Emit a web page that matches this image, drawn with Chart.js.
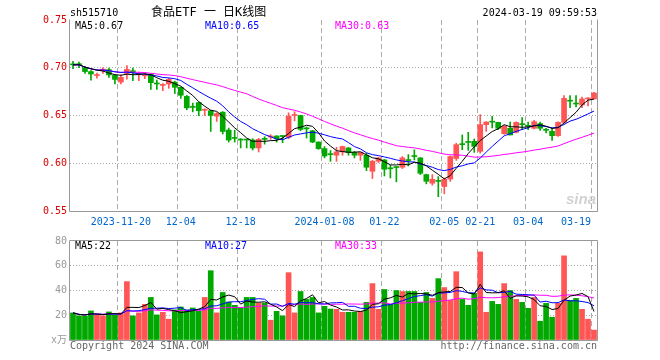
<!DOCTYPE html>
<html>
<head>
<meta charset="utf-8">
<script src="https://cdn.jsdelivr.net/npm/chart.js@4.4.1/dist/chart.umd.min.js"></script>
<style>
  html, body { margin: 0; padding: 0; background: #fff; }
  #wrap { position: relative; width: 660px; height: 360px; overflow: hidden;
          font: 10px "DejaVu Sans Mono", "Noto Sans CJK SC", monospace; }
  canvas { position: absolute; left: 0; }
  .t { position: absolute; line-height: 12px; white-space: pre; }
</style>
</head>
<body>
<div id="wrap">
  <canvas id="kline" width="660" height="232" style="top:0"></canvas>
  <canvas id="vol" width="660" height="128" style="top:232px"></canvas>

  <div class="t" style="left:70px;top:7px;color:#000">sh515710</div>
  <div class="t" style="left:151px;top:5px;font-size:12px;line-height:14px;color:#000">食品ETF 一 日K线图</div>
  <div class="t" style="right:63px;top:7px;color:#000">2024-03-19 09:59:53</div>

  <div class="t" style="left:75px;top:20px;color:#000">MA5:0.67</div>
  <div class="t" style="left:205px;top:20px;color:#0000ff">MA10:0.65</div>
  <div class="t" style="left:335px;top:20px;color:#ff00ff">MA30:0.63</div>

  <div class="t" style="left:566px;top:190px;font:italic bold 15px 'Liberation Sans', sans-serif;color:#d2d2d2">sina</div>

  <div class="t" style="left:75px;top:240px;color:#000">MA5:22</div>
  <div class="t" style="left:205px;top:240px;color:#0000ff">MA10:27</div>
  <div class="t" style="left:335px;top:240px;color:#ff00ff">MA30:33</div>

  <div class="t" style="left:70px;top:340px;color:#666">Copyright 2024 SINA.COM</div>
  <div class="t" style="right:63px;top:340px;color:#666">http://finance.sina.com.cn</div>
</div>

<script>
const FONT = '"DejaVu Sans Mono", "Noto Sans CJK SC", monospace';
const RED = '#ff5555';
const GREEN = '#00a800';

// trading days shown on the chart
const dates = [
  '2023-11-08','2023-11-09','2023-11-10','2023-11-13','2023-11-14','2023-11-15','2023-11-16','2023-11-17',
  '2023-11-20','2023-11-21','2023-11-22','2023-11-23','2023-11-24','2023-11-27','2023-11-28','2023-11-29','2023-11-30',
  '2023-12-01','2023-12-04','2023-12-05','2023-12-06','2023-12-07','2023-12-08','2023-12-11','2023-12-12','2023-12-13',
  '2023-12-14','2023-12-15','2023-12-18','2023-12-19','2023-12-20','2023-12-21','2023-12-22','2023-12-25','2023-12-26',
  '2023-12-27','2023-12-28','2023-12-29','2024-01-02','2024-01-03','2024-01-04','2024-01-05','2024-01-08','2024-01-09',
  '2024-01-10','2024-01-11','2024-01-12','2024-01-15','2024-01-16','2024-01-17','2024-01-18','2024-01-19','2024-01-22',
  '2024-01-23','2024-01-24','2024-01-25','2024-01-26','2024-01-29','2024-01-30','2024-01-31','2024-02-01','2024-02-02',
  '2024-02-05','2024-02-06','2024-02-07','2024-02-08','2024-02-19','2024-02-20','2024-02-21','2024-02-22','2024-02-23',
  '2024-02-26','2024-02-27','2024-02-28','2024-02-29','2024-03-01','2024-03-04','2024-03-05','2024-03-06','2024-03-07',
  '2024-03-08','2024-03-11','2024-03-12','2024-03-13','2024-03-14','2024-03-15','2024-03-18','2024-03-19'
];

const openP = [
  0.7034,0.7036,0.7003,0.6960,0.6918,0.6975,0.6980,0.6920,0.6850,0.6940,
  0.6969,0.6928,0.6915,0.6934,0.6833,0.6815,0.6830,0.6850,0.6795,0.6700,
  0.6588,0.6635,0.6555,0.6550,0.6493,0.6535,0.6347,0.6264,0.6247,0.6247,
  0.6243,0.6160,0.6254,0.6275,0.6285,0.6284,0.6271,0.6500,0.6500,0.6365,
  0.6340,0.6222,0.6153,0.6093,0.6084,0.6119,0.6160,0.6112,0.6084,0.6084,
  0.5916,0.6021,0.6035,0.5946,0.5958,0.5958,0.6032,0.6073,0.6056,0.5881,
  0.5791,0.5813,0.5756,0.5835,0.6050,0.6197,0.6222,0.6230,0.6125,0.6404,
  0.6435,0.6428,0.6310,0.6366,0.6324,0.6409,0.6395,0.6366,0.6415,0.6348,
  0.6334,0.6289,0.6428,0.6654,0.6625,0.6610,0.6673,0.6673
];
const highP = [
  0.7066,0.7060,0.7010,0.6970,0.6945,0.7000,0.6997,0.6925,0.6927,0.7024,
  0.6997,0.6955,0.6940,0.6940,0.6870,0.6835,0.6890,0.6860,0.6800,0.6710,
  0.6630,0.6640,0.6570,0.6555,0.6530,0.6540,0.6368,0.6347,0.6257,0.6250,
  0.6257,0.6260,0.6278,0.6300,0.6290,0.6290,0.6528,0.6540,0.6503,0.6380,
  0.6345,0.6225,0.6174,0.6133,0.6168,0.6180,0.6165,0.6126,0.6115,0.6105,
  0.6030,0.6063,0.6040,0.5979,0.5965,0.6070,0.6091,0.6140,0.6060,0.5886,
  0.5881,0.5860,0.5846,0.6077,0.6210,0.6296,0.6324,0.6254,0.6509,0.6435,
  0.6491,0.6430,0.6395,0.6430,0.6435,0.6477,0.6430,0.6450,0.6430,0.6366,
  0.6369,0.6435,0.6708,0.6708,0.6708,0.6694,0.6687,0.6743
];
const lowP = [
  0.6990,0.7000,0.6940,0.6870,0.6890,0.6940,0.6900,0.6830,0.6830,0.6880,
  0.6865,0.6865,0.6885,0.6774,0.6774,0.6760,0.6785,0.6730,0.6680,0.6560,
  0.6538,0.6497,0.6500,0.6333,0.6438,0.6306,0.6222,0.6222,0.6160,0.6160,
  0.6139,0.6118,0.6200,0.6250,0.6222,0.6215,0.6257,0.6444,0.6340,0.6264,
  0.6215,0.6146,0.6056,0.6020,0.6020,0.6084,0.6084,0.6056,0.6030,0.5923,
  0.5840,0.6007,0.5867,0.5846,0.5805,0.5944,0.5972,0.6035,0.5881,0.5784,
  0.5770,0.5650,0.5680,0.5810,0.6030,0.6142,0.6135,0.6114,0.6107,0.6334,
  0.6370,0.6352,0.6303,0.6296,0.6317,0.6352,0.6352,0.6360,0.6345,0.6317,
  0.6240,0.6282,0.6420,0.6582,0.6589,0.6582,0.6600,0.6673
];
const closeP = [
  0.7030,0.7032,0.6960,0.6934,0.6922,0.6980,0.6925,0.6878,0.6900,0.6983,
  0.6948,0.6935,0.6920,0.6844,0.6830,0.6820,0.6878,0.6795,0.6712,0.6580,
  0.6585,0.6550,0.6560,0.6500,0.6520,0.6333,0.6243,0.6260,0.6243,0.6243,
  0.6160,0.6250,0.6250,0.6280,0.6257,0.6280,0.6493,0.6503,0.6354,0.6360,
  0.6222,0.6153,0.6076,0.6090,0.6119,0.6175,0.6112,0.6084,0.6112,0.5958,
  0.6021,0.6056,0.5937,0.5942,0.5955,0.6056,0.6028,0.6070,0.5895,0.5811,
  0.5832,0.5810,0.5832,0.6070,0.6195,0.6195,0.6218,0.6177,0.6404,0.6432,
  0.6430,0.6366,0.6387,0.6296,0.6428,0.6404,0.6387,0.6435,0.6366,0.6345,
  0.6289,0.6428,0.6680,0.6650,0.6620,0.6673,0.6680,0.6736
];
// volume, x10k
const volume = [
  21.9,19.5,19.5,23.5,20.5,19.5,22.7,20.5,21.9,47.2,
  19.5,21.9,28.8,34.4,20.3,22.4,16.8,24.3,26.7,24.3,
  25.9,23.5,34.4,56.0,21.9,38.4,30.7,28.0,25.9,34.4,
  34.4,29.9,29.9,16.0,23.2,19.5,54.4,21.9,39.2,32.8,
  34.4,21.9,27.2,25.0,24.8,22.4,22.4,22.4,23.2,30.4,
  45.6,24.8,40.8,28.8,40.0,39.2,39.2,39.2,30.4,38.4,
  33.6,49.6,42.4,32.0,55.2,32.8,28.0,37.6,71.2,22.4,
  31.2,28.8,45.6,40.0,32.8,30.4,25.6,34.4,15.2,29.6,
  18.4,29.6,68.0,32.0,33.6,24.8,16.8,8.0
];

// dates that get a grid line and a label
const markDates = ['2023-11-20','2023-12-04','2023-12-18','2024-01-08','2024-01-22','2024-02-05','2024-02-21','2024-03-04','2024-03-19'];
const markLabels = ['2023-11-20','12-04','12-18','2024-01-08','01-22','02-05','02-21','03-04','03-19      '];
const priceGrid = [0.60, 0.65, 0.70];
const volumeGrid = [20, 40, 60];

function movingAvg(values, n) {
  return values.map((v, i) => {
    const win = values.slice(Math.max(0, i - n + 1), i + 1);
    return win.reduce((a, b) => a + b, 0) / win.length;
  });
}

const candleColor = closeP.map((c, i) => (c >= openP[i] ? RED : GREEN));

// frame round the plot area
const frame = {
  id: 'frame',
  beforeDatasetsDraw(chart, args, opts) {
    const { ctx, chartArea: a } = chart;
    const l = a.left - 0.5, r = a.right + 0.5, t = a.top - 0.5, b = a.bottom + 0.5;
    ctx.save();
    ctx.strokeStyle = '#999';
    ctx.lineWidth = 1;
    ctx.beginPath();
    ctx.moveTo(l, t);
    ctx.lineTo(l, b);
    ctx.lineTo(r, b);
    ctx.lineTo(r, t);
    if (opts.top) ctx.lineTo(l, t);
    ctx.stroke();
    ctx.restore();
  }
};

function dateAxis(showLabels, height) {
  return {
    type: 'category',
    offset: true,
    grid: {
      offset: true,
      drawTicks: false,
      color: ctx => (ctx.tick && markDates.includes(dates[ctx.tick.value]) ? '#aaa' : 'rgba(0,0,0,0)')
    },
    border: { display: false, dash: [5, 3] },
    ticks: {
      autoSkip: false,
      maxRotation: 0,
      minRotation: 0,
      padding: 5,
      color: showLabels ? '#0066cc' : 'rgba(0,0,0,0)',
      font: { family: FONT, size: 10 },
      // keep every tick (empty label) so the grid stays on the bars
      callback: (v, i) => {
        const k = markDates.indexOf(dates[i]);
        return k < 0 ? '' : markLabels[k];
      }
    },
    afterFit: s => { s.height = height; }
  };
}

function valueAxis(min, max, step, gridAt, color, fmt) {
  return {
    position: 'left',
    min: min,
    max: max,
    grid: {
      drawTicks: false,
      color: ctx => (ctx.tick && gridAt.some(g => Math.abs(g - ctx.tick.value) < 1e-6) ? '#aaa' : 'rgba(0,0,0,0)')
    },
    border: { display: false, dash: [1, 2] },
    ticks: { stepSize: step, padding: 3, color: color, font: { family: FONT, size: 10 }, callback: fmt },
    afterFit: s => { s.width = 70; }
  };
}

function maLine(data, color) {
  return { type: 'line', data: data, borderColor: color, borderWidth: 1, pointRadius: 0, tension: 0, order: 0 };
}

const baseOptions = {
  responsive: false,
  animation: false,
  events: [],
  plugins: { legend: { display: false }, tooltip: { enabled: false }, frame: { top: false } }
};

new Chart(document.getElementById('kline'), {
  type: 'bar',
  data: {
    labels: dates,
    datasets: [
      maLine(movingAvg(closeP, 5), '#000000'),
      maLine(movingAvg(closeP, 10), '#0000ff'),
      maLine(movingAvg(closeP, 30), '#ff00ff'),
      {
        // candle body
        data: openP.map((o, i) => [o, closeP[i]]),
        backgroundColor: candleColor,
        barThickness: 5,
        minBarLength: 1,
        grouped: false,
        order: 1
      },
      {
        // wick
        data: lowP.map((l, i) => [l, highP[i]]),
        backgroundColor: candleColor,
        barThickness: 1,
        grouped: false,
        order: 2
      }
    ]
  },
  options: {
    ...baseOptions,
    layout: { padding: { top: 20, right: 63, left: 0, bottom: 0 } },
    scales: {
      x: dateAxis(true, 21),
      y: valueAxis(0.55, 0.75, 0.05, priceGrid, '#dd0000', v => v.toFixed(2))
    }
  },
  plugins: [frame]
});

new Chart(document.getElementById('vol'), {
  type: 'bar',
  data: {
    labels: dates,
    datasets: [
      maLine(movingAvg(volume, 5), '#000000'),
      maLine(movingAvg(volume, 10), '#0000ff'),
      maLine(movingAvg(volume, 30), '#ff00ff'),
      { data: volume, backgroundColor: candleColor, barThickness: 5, order: 1 }
    ]
  },
  options: {
    ...baseOptions,
    plugins: { ...baseOptions.plugins, frame: { top: true } },
    layout: { padding: { top: 8, right: 63, left: 0, bottom: 0 } },
    scales: {
      x: dateAxis(false, 20),
      y: valueAxis(0, 80, 20, volumeGrid, '#999', v => (v === 0 ? 'x万' : String(v)))
    }
  },
  plugins: [frame]
});
</script>
</body>
</html>
